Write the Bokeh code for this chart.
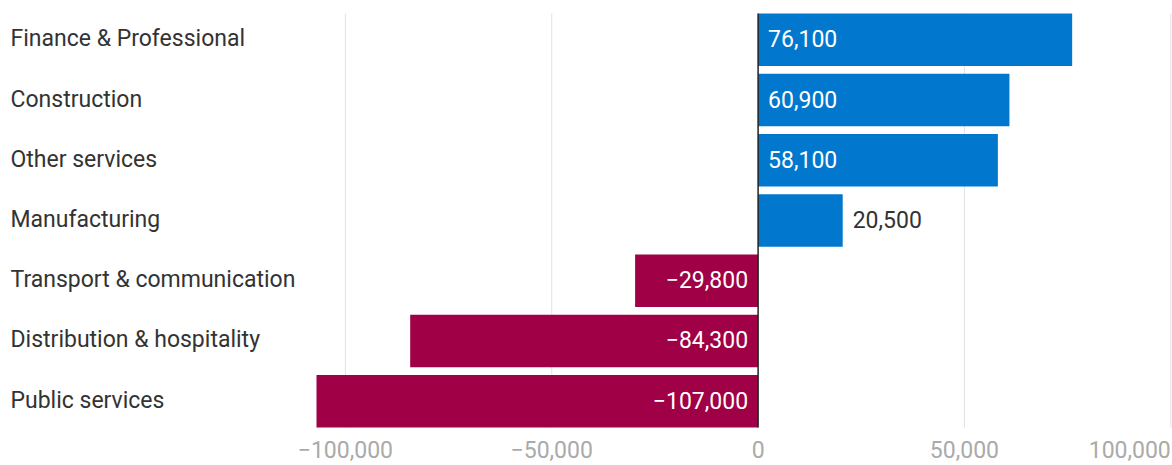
from bokeh.plotting import figure
from bokeh.models import ColumnDataSource, Range1d, LabelSet, Grid
from bokeh.core.properties import value
from bokeh.embed import file_html
from bokeh.resources import INLINE

categories = ["Finance & Professional", "Construction", "Other services", "Manufacturing",
              "Transport & communication", "Distribution & hospitality", "Public services"]
values = [76100, 60900, 58100, 20500, -29800, -84300, -107000]
ticks = [-100000, -50000, 0, 50000, 100000]
tick_labels = ["\u2212100,000", "\u221250,000", "0", "50,000", "100,000"]

POS = "#0178cd"
NEG = "#a00046"
FONT = value("Roboto")
FS = "23px"

W, H = 1172, 465
# pixel layout of the bar area
BAR_LEFT_PX, TICK_MAX_PX = 316, 1170.3
BAR_TOP_PX, BAR_BOT_PX = 13, 427


def fmt(v):
    s = f"{abs(v):,}"
    return ("\u2212" + s) if v < 0 else s


n = len(categories)
idx = list(range(n))
inside = [abs(v) >= 25000 for v in values]
src = ColumnDataSource(dict(
    y=idx, v=values, cat=categories,
    color=[POS if v >= 0 else NEG for v in values],
    lab=[fmt(v) for v in values],
    lab_x=[0 if ins else v for v, ins in zip(values, inside)],
    lab_off=[10 if v >= 0 else -10 for v in values],
    lab_align=[("left" if v >= 0 else "right") for v in values],
    lab_color=["#ffffff" if ins else "#333333" for ins in inside],
))

# x range so that min(values) sits at BAR_LEFT_PX and max tick at TICK_MAX_PX
xmin, xmax = min(values), max(ticks)
upp = (xmax - xmin) / (TICK_MAX_PX - BAR_LEFT_PX)
x_start = xmin - BAR_LEFT_PX * upp
x_end = xmax + (W - TICK_MAX_PX) * upp

half = 0.436
ypp = (2 * half + (n - 1)) / (BAR_BOT_PX - BAR_TOP_PX)
y_top = -half - BAR_TOP_PX * ypp
y_bot = (n - 1) + half + (H - BAR_BOT_PX) * ypp

p = figure(width=W, height=H, output_backend="svg", toolbar_location=None,
           x_range=Range1d(x_start, x_end), y_range=Range1d(y_bot, y_top),
           x_axis_location=None, y_axis_location=None,
           min_border_left=0, min_border_right=0, min_border_top=0, min_border_bottom=0)
p.outline_line_color = None
p.background_fill_color = "white"
p.border_fill_color = "white"
for g in p.select(type=Grid):
    g.visible = False

grid_x = [t for t in ticks if t != 0]
p.segment(x0=grid_x, x1=grid_x, y0=[-half] * len(grid_x), y1=[n - 1 + half] * len(grid_x),
          line_color="#e2e2e2", line_width=1)

p.hbar(y="y", left=0, right="v", height=2 * half, fill_color="color", line_color=None, source=src)

p.segment(x0=[0], x1=[0], y0=[-half], y1=[n - 1 + half], line_color="#222222", line_width=1.5)

p.add_layout(LabelSet(x="lab_x", y="y", text="lab", x_offset="lab_off", text_align="lab_align",
                      text_baseline="middle", text_color="lab_color", text_font=FONT,
                      text_font_size=FS, y_offset=1, source=src))

p.add_layout(LabelSet(x=10, x_units="screen", y="y", text="cat", text_align="left",
                      text_baseline="middle", text_color="#333333", text_font=FONT,
                      text_font_size=FS, y_offset=1, source=src))

tick_src = ColumnDataSource(dict(
    x=ticks, t=tick_labels,
    align=["right" if t == ticks[-1] else "center" for t in ticks],
))
p.add_layout(LabelSet(x="x", y=H - 449, y_units="screen", text="t", text_align="align",
                      text_baseline="middle", text_color="#aaaaaa", text_font=FONT,
                      text_font_size=FS, source=tick_src))

open("out.html", "w").write(file_html(p, INLINE))
